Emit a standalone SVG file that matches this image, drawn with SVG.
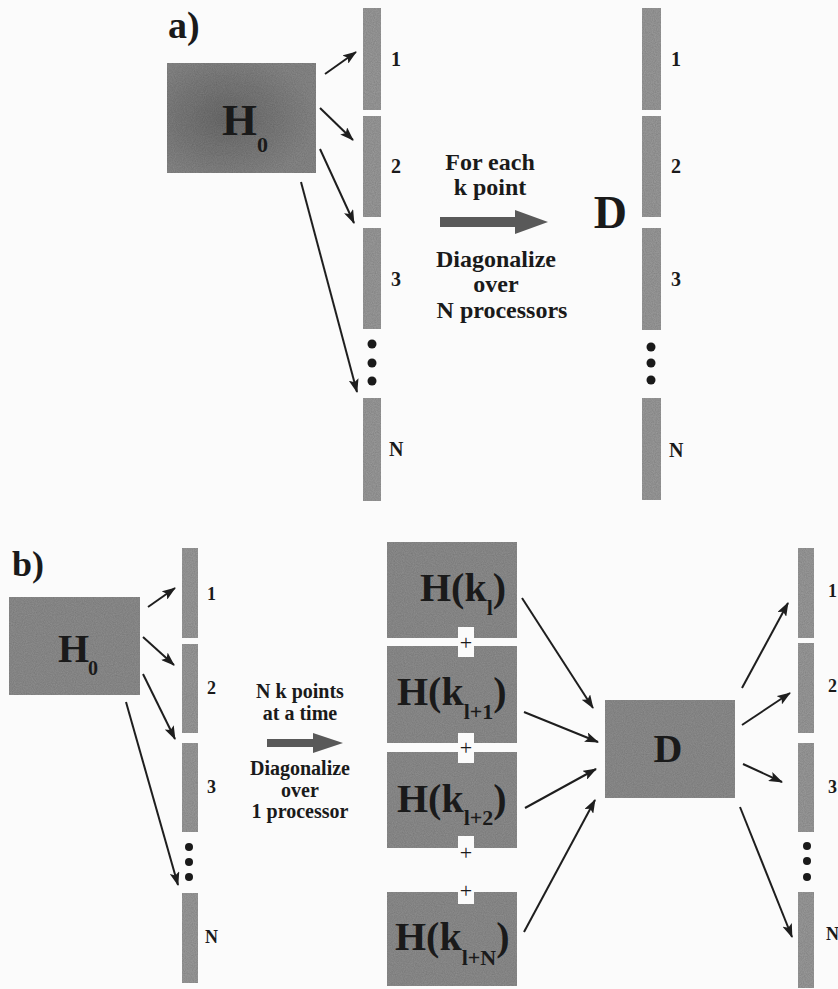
<svg xmlns="http://www.w3.org/2000/svg" width="838" height="989" viewBox="0 0 838 989">
<defs>
<marker id="ah" markerUnits="userSpaceOnUse" markerWidth="14" markerHeight="10" refX="13" refY="5" orient="auto">
<path d="M0,0 L14,5 L0,10 L3,5 z" fill="#1e1e1e"/>
</marker>
<filter id="grain" x="0" y="0" width="100%" height="100%">
<feTurbulence type="fractalNoise" baseFrequency="0.9" numOctaves="2" seed="3" result="n"/>
<feColorMatrix in="n" type="matrix" values="0 0 0 0 0  0 0 0 0 0  0 0 0 0 0  0 0 0 0.35 0" result="a"/>
<feComposite in="a" in2="SourceGraphic" operator="in" result="b"/>
<feMerge><feMergeNode in="SourceGraphic"/><feMergeNode in="b"/></feMerge>
</filter>
<radialGradient id="h0g" cx="0.4" cy="0.5" r="0.6">
<stop offset="0" stop-color="#6e6e6e"/>
<stop offset="1" stop-color="#8a8a8a"/>
</radialGradient>
</defs>
<style>
text{font-family:"Liberation Serif","Times New Roman",serif;font-weight:bold;fill:#1a1a1a}
.strip{fill:#9c9c9c;filter:url(#grain)}
.box{fill:#909090;filter:url(#grain)}
.lbl{font-size:20px}
.lbs{font-size:18px}
.mid{font-size:24px;text-anchor:middle}
.midb{font-size:20px;text-anchor:middle}
.big{font-size:40px}
.sub{font-size:22px}
.plus{font-size:22px;font-weight:normal;text-anchor:middle}
.dot{fill:#1a1a1a}
.conn line{stroke:#1e1e1e;stroke-width:2;marker-end:url(#ah)}
.notch{fill:#fbfbfb}
.barrow{fill:#595959}
</style>
<rect width="838" height="989" fill="#fbfbfb"/>

<g id="label-a"><text x="168" y="38" style="font-size:38px">a)</text></g>
<g id="label-b"><text x="12" y="576" style="font-size:36px">b)</text></g>

<g id="a-H0">
<rect x="167" y="63" width="149" height="110" fill="url(#h0g)" filter="url(#grain)"/>
<text x="222" y="135" style="font-size:45px">H</text>
<text x="257" y="152" style="font-size:22px">0</text>
</g>

<g id="a-strips-left">
<rect class="strip" x="363" y="8" width="18" height="102"/>
<rect class="strip" x="363" y="116" width="18" height="101"/>
<rect class="strip" x="363" y="228" width="18" height="101"/>
<rect class="strip" x="363" y="398" width="18" height="103"/>
<circle class="dot" cx="372" cy="344" r="4.5"/>
<circle class="dot" cx="372" cy="363" r="4.5"/>
<circle class="dot" cx="372" cy="381" r="4.5"/>
<text class="lbl" x="391" y="66">1</text>
<text class="lbl" x="391" y="173">2</text>
<text class="lbl" x="391" y="286">3</text>
<text class="lbl" x="389" y="456">N</text>
</g>

<g id="a-middle">
<text class="mid" x="490" y="170">For each</text>
<text class="mid" x="490" y="195">k point</text>
<rect class="barrow" x="440" y="217" width="76" height="10"/>
<polygon class="barrow" points="515,210 548,222 515,234"/>
<text class="mid" x="496" y="267">Diagonalize</text>
<text class="mid" x="496" y="292">over</text>
<text class="mid" x="502" y="318">N processors</text>
</g>

<g id="a-D"><text x="627" y="228" style="font-size:46px;text-anchor:end">D</text></g>

<g id="a-strips-right">
<rect class="strip" x="642" y="8" width="19" height="102"/>
<rect class="strip" x="642" y="116" width="19" height="101"/>
<rect class="strip" x="642" y="228" width="19" height="102"/>
<rect class="strip" x="642" y="398" width="19" height="102"/>
<circle class="dot" cx="651" cy="347" r="4.5"/>
<circle class="dot" cx="651" cy="363" r="4.5"/>
<circle class="dot" cx="651" cy="380" r="4.5"/>
<text class="lbl" x="671" y="66">1</text>
<text class="lbl" x="671" y="173">2</text>
<text class="lbl" x="671" y="286">3</text>
<text class="lbl" x="669" y="457">N</text>
</g>

<g id="b-H0">
<rect class="box" x="9" y="597" width="131" height="98"/>
<text x="58" y="662" class="big">H</text>
<text x="88" y="675" style="font-size:20px">0</text>
</g>

<g id="b-strips-left">
<rect class="strip" x="182" y="548" width="16" height="90"/>
<rect class="strip" x="182" y="644" width="16" height="89"/>
<rect class="strip" x="182" y="743" width="16" height="89"/>
<rect class="strip" x="182" y="893" width="16" height="90"/>
<circle class="dot" cx="189" cy="847" r="4"/>
<circle class="dot" cx="189" cy="862" r="4"/>
<circle class="dot" cx="189" cy="877" r="4"/>
<text class="lbs" x="207" y="600">1</text>
<text class="lbs" x="207" y="694">2</text>
<text class="lbs" x="207" y="793">3</text>
<text class="lbs" x="205" y="943">N</text>
</g>

<g id="b-middle">
<text class="midb" x="300" y="698">N k points</text>
<text class="midb" x="300" y="720">at a time</text>
<rect class="barrow" x="267" y="739" width="47" height="8"/>
<polygon class="barrow" points="313,733 343,743 313,753"/>
<text class="midb" x="300" y="775">Diagonalize</text>
<text class="midb" x="300" y="797">over</text>
<text class="midb" x="300" y="818">1 processor</text>
</g>

<g id="b-Hk">
<rect class="box" x="387" y="542" width="130" height="96"/>
<rect class="box" x="387" y="646" width="130" height="97"/>
<rect class="box" x="387" y="752" width="130" height="96"/>
<rect class="box" x="387" y="892" width="130" height="94"/>
<rect class="notch" x="458" y="627" width="16" height="30"/>
<rect class="notch" x="458" y="733" width="16" height="30"/>
<rect class="notch" x="458" y="836" width="16" height="12"/>
<rect class="notch" x="458" y="892" width="16" height="12"/>
<text class="plus" x="466" y="650">+</text>
<text class="plus" x="466" y="755">+</text>
<text class="plus" x="466" y="860">+</text>
<text class="plus" x="466" y="898">+</text>
<text x="420" y="601" class="big">H(k<tspan class="sub" dy="14">l</tspan><tspan dy="-14">)</tspan></text>
<text x="397" y="705" class="big">H(k<tspan class="sub" dy="14">l+1</tspan><tspan dy="-14">)</tspan></text>
<text x="397" y="812" class="big">H(k<tspan class="sub" dy="13">l+2</tspan><tspan dy="-13">)</tspan></text>
<text x="395" y="950" class="big">H(k<tspan class="sub" dy="15">l+N</tspan><tspan dy="-15">)</tspan></text>
</g>

<g id="b-D">
<rect class="box" x="605" y="700" width="130" height="98"/>
<text x="668" y="762" class="big" style="text-anchor:middle">D</text>
</g>

<g id="b-strips-right">
<rect class="strip" x="798" y="548" width="16" height="90"/>
<rect class="strip" x="798" y="643" width="16" height="90"/>
<rect class="strip" x="798" y="743" width="16" height="89"/>
<rect class="strip" x="798" y="892" width="16" height="96"/>
<circle class="dot" cx="807" cy="846" r="4"/>
<circle class="dot" cx="807" cy="861" r="4"/>
<circle class="dot" cx="807" cy="877" r="4"/>
<text class="lbs" x="828" y="597">1</text>
<text class="lbs" x="828" y="692">2</text>
<text class="lbs" x="828" y="793">3</text>
<text class="lbs" x="826" y="940">N</text>
</g>

<g id="connectors" class="conn">
<line x1="325" y1="74" x2="356" y2="52"/>
<line x1="320" y1="108" x2="353" y2="140"/>
<line x1="320" y1="149" x2="354" y2="223"/>
<line x1="301" y1="182" x2="357" y2="392"/>
<line x1="148" y1="607" x2="175" y2="588"/>
<line x1="143" y1="637" x2="174" y2="665"/>
<line x1="143" y1="674" x2="175" y2="739"/>
<line x1="126" y1="702" x2="178" y2="885"/>
<line x1="522" y1="598" x2="593" y2="708"/>
<line x1="524" y1="712" x2="598" y2="742"/>
<line x1="525" y1="808" x2="596" y2="769"/>
<line x1="524" y1="932" x2="595" y2="800"/>
<line x1="742" y1="688" x2="788" y2="603"/>
<line x1="742" y1="725" x2="790" y2="693"/>
<line x1="743" y1="764" x2="782" y2="782"/>
<line x1="740" y1="807" x2="792" y2="937"/>
</g>
</svg>
